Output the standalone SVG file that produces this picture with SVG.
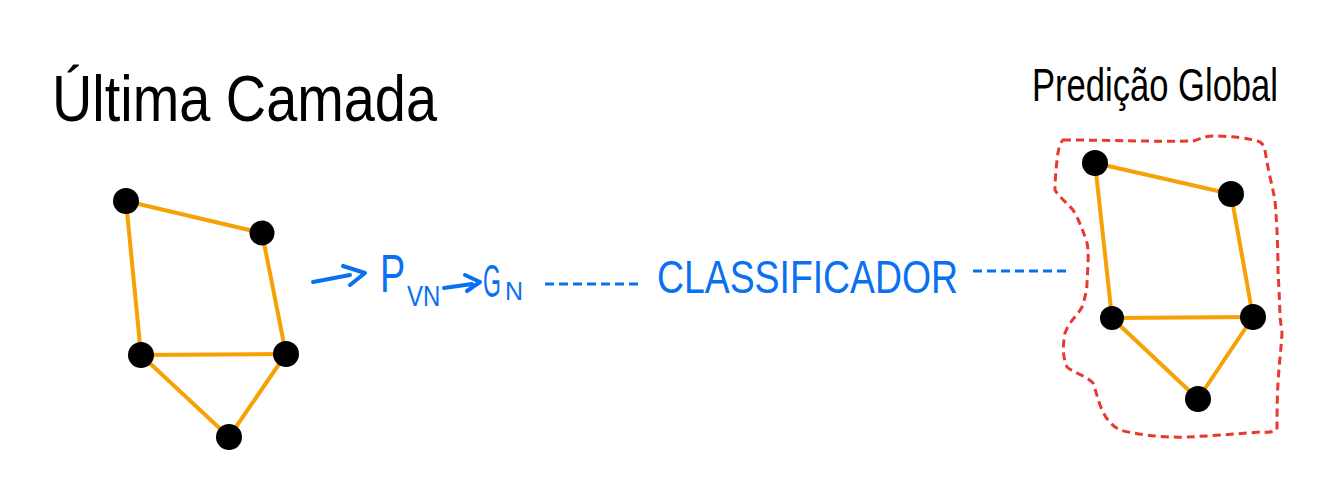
<svg xmlns="http://www.w3.org/2000/svg" width="1334" height="491" viewBox="0 0 1334 491">
<style>
.title{font-family:"Liberation Sans","DejaVu Sans",sans-serif;fill:#000}
.blue{font-family:"Liberation Sans","DejaVu Sans",sans-serif;fill:#0a70f2}
.edge{stroke:#f7a104;stroke-width:4;stroke-linecap:round;fill:none}
.node{fill:#000}
.dash{stroke:#0a70f2;stroke-width:3;stroke-dasharray:9 5;fill:none}
.arr{stroke:#0a70f2;stroke-width:4;stroke-linecap:round;stroke-linejoin:round;fill:none}
</style>
<rect width="1334" height="491" fill="#fff"/>
<text class="title" x="52" y="121" font-size="64" textLength="385" lengthAdjust="spacingAndGlyphs">Última Camada</text>
<text class="title" transform="translate(1032,101) scale(1,1.25)" font-size="37" textLength="246" lengthAdjust="spacingAndGlyphs">Predição Global</text>
<g id="flow">
<path class="arr" d="M313 282 L350 275 M343 266 L365 273 L350 285"/>
<text class="blue" transform="translate(380,292) scale(0.7,1)" font-size="54">P</text>
<text class="blue" transform="translate(407,306) scale(0.8,1)" font-size="30">VN</text>
<path class="arr" d="M444 288 L472 284 M465 275 L480 282 L467 291"/>
<text class="blue" transform="translate(483,297) scale(0.5,1)" font-size="46">G</text>
<text class="blue" transform="translate(505,300)" font-size="25">N</text>
<path class="dash" d="M545 284 L638 284"/>
<text class="blue" x="657" y="293" font-size="46" textLength="301" lengthAdjust="spacingAndGlyphs">CLASSIFICADOR</text>
<path class="dash" d="M973 271 L1067 271"/>
</g>
<g id="connectors">
<line class="edge" x1="126" y1="201" x2="262" y2="233"/>
<line class="edge" x1="126" y1="201" x2="141" y2="355"/>
<line class="edge" x1="262" y1="233" x2="286" y2="354"/>
<line class="edge" x1="141" y1="355" x2="286" y2="354"/>
<line class="edge" x1="141" y1="355" x2="229" y2="437"/>
<line class="edge" x1="286" y1="354" x2="229" y2="437"/>
<line class="edge" x1="1095" y1="163" x2="1231" y2="194"/>
<line class="edge" x1="1095" y1="163" x2="1112" y2="318"/>
<line class="edge" x1="1231" y1="194" x2="1253" y2="317"/>
<line class="edge" x1="1112" y1="318" x2="1253" y2="317"/>
<line class="edge" x1="1112" y1="318" x2="1198" y2="399"/>
<line class="edge" x1="1253" y1="317" x2="1198" y2="399"/>
</g>
<g id="boundary">
<path d="M1063 140 C1110 140 1160 142 1193 141 C1200 139 1205 136 1213 136 C1230 136 1250 138 1260 142 C1264 145 1265 148 1265 150 C1268 170 1272 185 1275 200 C1277 225 1278 250 1278 270 C1279 290 1280 310 1280 317 L1282 333 C1281 350 1279 365 1278 383 C1277 400 1277 420 1277 430 C1270 433 1265 432 1260 432 C1235 434 1210 436 1187 437 C1160 438 1135 434 1120 430 C1100 420 1098 395 1093 383 C1085 375 1072 372 1067 367 C1062 355 1063 345 1065 333 C1070 320 1078 315 1082 307 C1085 298 1087 290 1087 283 C1088 265 1089 250 1087 243 C1083 230 1078 218 1073 210 C1066 202 1058 196 1055 190 C1055 180 1056 170 1057 160 C1058 150 1060 143 1063 140 Z" fill="none" stroke="#e8392f" stroke-width="3" stroke-dasharray="8 5"/>
</g>
<g id="n1"><circle class="node" cx="126" cy="201" r="13"/></g>
<g id="n2"><circle class="node" cx="262" cy="233" r="12.5"/></g>
<g id="n3"><circle class="node" cx="141" cy="355" r="13"/></g>
<g id="n4"><circle class="node" cx="286" cy="354" r="13"/></g>
<g id="n5"><circle class="node" cx="229" cy="437" r="13"/></g>
<g id="m1"><circle class="node" cx="1095" cy="163" r="13"/></g>
<g id="m2"><circle class="node" cx="1231" cy="194" r="13"/></g>
<g id="m3"><circle class="node" cx="1112" cy="318" r="12"/></g>
<g id="m4"><circle class="node" cx="1253" cy="317" r="13"/></g>
<g id="m5"><circle class="node" cx="1198" cy="399" r="13"/></g>
</svg>
